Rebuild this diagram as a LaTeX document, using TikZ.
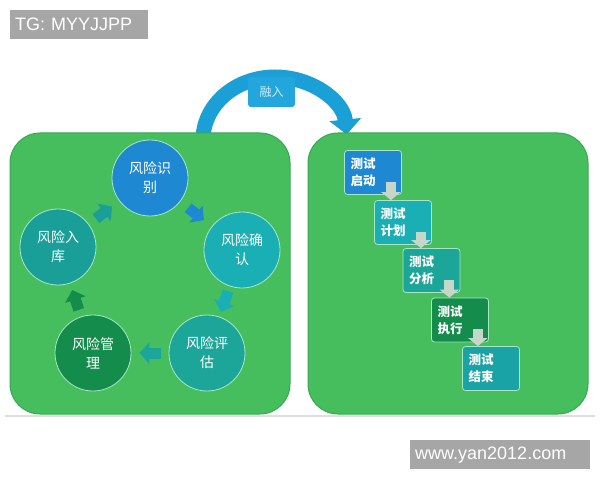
\documentclass[tikz,border=0pt]{standalone}
\usepackage{fontspec}
\setmainfont{Liberation Sans}
\newfontfamily\cjk{Noto Sans CJK SC}
\usetikzlibrary{arrows.meta,positioning,calc}
\definecolor{npanel}{HTML}{46BE5E}
\definecolor{npanelrim}{HTML}{34AA52}
\definecolor{nblue}{HTML}{1E88D2}
\definecolor{nteal}{HTML}{1A9E98}
\definecolor{ncyan}{HTML}{1AAFB5}
\definecolor{nteal2}{HTML}{1CA69A}
\definecolor{ndkgreen}{HTML}{148C4C}
\definecolor{nend}{HTML}{1AA3A6}
\definecolor{nrim}{HTML}{A8E6C8}
\definecolor{narc}{HTML}{1A9FD6}
\definecolor{nlabel}{HTML}{22A6DC}
\definecolor{ngray}{HTML}{C6D6C9}
\definecolor{ntag}{HTML}{A6A6A6}

\tikzset{
 panel/.style={fill=npanel, draw=npanelrim, line width=1pt, rounded corners=30pt},
 risk/.style={circle, minimum size=76pt, inner sep=0pt, draw=nrim, line width=0.8pt,
  text=white, align=center, font=\cjk\fontsize{14}{19}\selectfont},
 phase/.style={rectangle, rounded corners=3pt, minimum width=57pt, minimum height=44pt,
  inner xsep=6pt, text width=45pt, align=left, draw=nrim, line width=0.8pt,
  text=white, font=\cjk\bfseries\fontsize{12.5}{17}\selectfont},
 cyc/.style={line width=11pt, -{Triangle[width=21pt,length=10pt]},
  shorten <=#1, shorten >=#1},
 cyc/.default=9pt,
 godown/.style={ngray, line width=10pt, -{Triangle[width=19pt,length=8pt]}},
 tag/.style={fill=ntag, text=white, anchor=north west, align=left, inner xsep=5pt,
  minimum height=29pt, font=\fontsize{18}{20}\selectfont}
}

\begin{document}
\begin{tikzpicture}[x=1pt, y=1pt]
 \useasboundingbox (0,0) rectangle (600,480);
 \node[tag, text width=128pt] (tg) at (10,470) {TG: MYYJJPP};
 \node[tag, text width=170pt] (web) at (410,40) {www.yan2012.com};

 % arc over the two panels
 \coordinate (arcc) at (275,340);
 \draw[narc, line width=15pt, -{Triangle[width=31pt,length=15pt]}]
  ($(arcc)+(183:72 and 63)$) arc[start angle=183, end angle=5, x radius=72, y radius=63];
 \node[fill=nlabel, rounded corners=3pt, minimum width=47pt, minimum height=30pt,
  text=white!80!nlabel, font=\cjk\fontsize{12}{14}\selectfont] (merge) at (271.5,388) {融入};

 \draw[gray!25, line width=2.5pt] (5,64) -- (595,64);
 \draw[panel] (10,66) rectangle (290,347);
 \draw[panel] (308,66) rectangle (588,347);

 % risk cycle
 \node[risk, fill=nblue] (sb) at (150,302) {风险识\\别};
 \node[risk, fill=ncyan] (qr) at (242,230) {风险确\\认};
 \node[risk, fill=nteal2] (pg) at (207,127) {风险评\\估};
 \node[risk, fill=ndkgreen] (gl) at (93,127) {风险管\\理};
 \node[risk, fill=nteal] (rk) at (58,233) {风险入\\库};
 \draw[cyc, nteal] (rk) -- (sb);
 \draw[cyc=10pt, nblue] (sb) -- (qr);
 \draw[cyc=5pt, ncyan] (qr) -- (pg);
 \draw[cyc=8pt, nteal2] (pg) -- (gl);
 \draw[cyc=7pt, ndkgreen] (gl) -- (rk);

 % test phases
 \node[phase, fill=nblue] (qd) at (373,307.5) {测试\\启动};
 \node[phase, fill=ncyan] (jh) at (403,257.5) {测试\\计划};
 \node[phase, fill=nteal2] (fx) at (431.5,209.5) {测试\\分析};
 \node[phase, fill=ndkgreen] (zx) at (460,160) {测试\\执行};
 \node[phase, fill=nend] (js) at (491,111.5) {测试\\结束};
 \foreach \a/\b in {qd/jh, jh/fx, fx/zx, zx/js}
  \draw[godown] ([xshift=-11pt,yshift=13pt]\a.south east) -- ([xshift=-11pt]\a.south east |- \b.north);
\end{tikzpicture}
\end{document}
